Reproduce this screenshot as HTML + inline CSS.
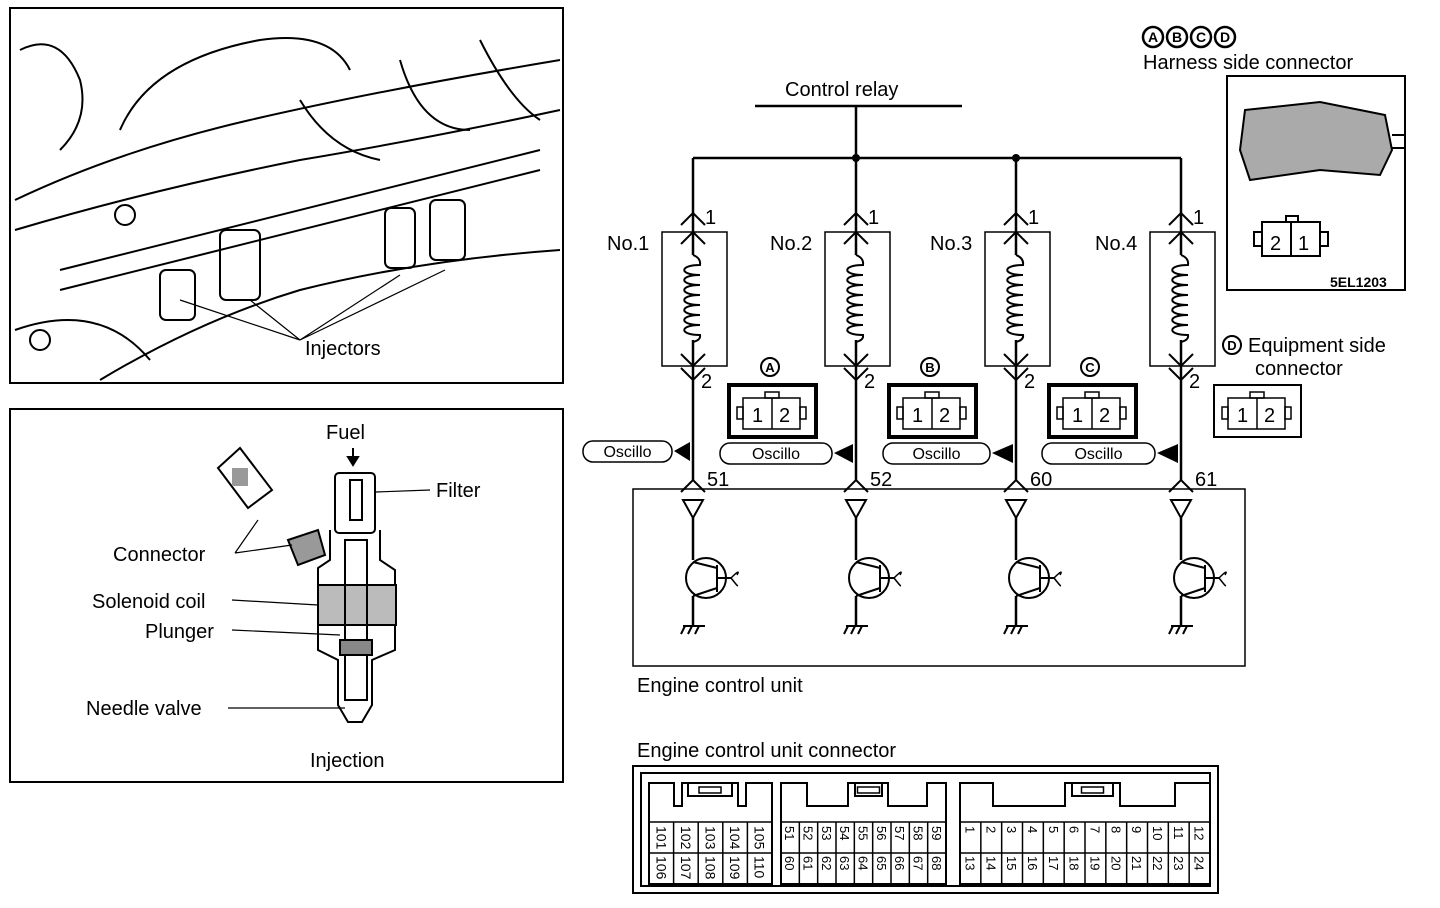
<!DOCTYPE html>
<html><head><meta charset="utf-8"><style>
html,body{margin:0;padding:0;background:#fff;}
svg{display:block;font-family:"Liberation Sans",sans-serif;}
</style></head><body>
<svg id="s" width="1440" height="908" viewBox="0 0 1440 908" xmlns="http://www.w3.org/2000/svg">
<g fill="none" stroke="#000" stroke-width="2">
<rect x="10" y="8" width="553" height="375"/>
<rect x="10" y="409" width="553" height="373"/>
<g stroke-width="2">
<path d="M15 200 Q120 150 250 120 Q380 90 560 60"/>
<path d="M15 230 Q150 190 300 160 Q420 140 560 110"/>
<path d="M60 270 L540 150 M60 290 L540 170"/>
<path d="M100 380 Q200 320 300 290 Q420 260 560 250"/>
<path d="M120 130 Q150 60 260 40 Q330 30 350 70"/>
<path d="M300 100 Q330 150 380 160 M400 60 Q420 130 470 130"/>
<rect x="385" y="208" width="30" height="60" rx="6"/>
<rect x="430" y="200" width="35" height="60" rx="6"/>
<rect x="220" y="230" width="40" height="70" rx="6"/>
<rect x="160" y="270" width="35" height="50" rx="6"/>
<path d="M20 50 Q60 30 80 80 Q90 120 60 150"/>
<path d="M480 40 Q510 100 540 120"/>
<circle cx="40" cy="340" r="10"/><circle cx="125" cy="215" r="10"/>
<path d="M15 330 Q100 300 150 360"/>
</g>
<path d="M300 340 L180 300 M300 340 L250 300 M300 340 L400 275 M300 340 L445 270" stroke-width="1.2"/>
<g stroke-width="2">
<rect x="335" y="473" width="40" height="60" rx="4"/>
<rect x="350" y="480" width="12" height="40"/>
<path d="M330 530 L330 560 L318 568 L318 650 L338 660 L338 705 L348 722 L362 722 L372 705 L372 660 L395 650 L395 570 L380 560 L380 530"/>
<rect x="318" y="585" width="78" height="40" fill="#bbb"/>
<rect x="345" y="540" width="22" height="160"/>
<rect x="340" y="640" width="32" height="15" fill="#888"/>
<path d="M288 540 L318 530 L325 555 L298 565 Z" fill="#999"/>
<path d="M218 468 L240 448 L272 490 L248 508 Z"/>
<rect x="232" y="468" width="16" height="18" fill="#999" stroke="none"/>
</g>
<path d="M353 448 L353 462" stroke-width="2"/>
<path d="M348 457 L353 465 L358 457 Z" fill="#000"/>
<path d="M430 490 L376 492 M235 553 L258 520 M235 553 L292 545 M232 600 L318 605 M232 630 L340 635 M228 708 L345 708" stroke-width="1.2"/>
</g>
<g font-size="20" fill="#000">
<text x="305" y="355">Injectors</text>
<text x="326" y="439">Fuel</text>
<text x="436" y="497">Filter</text>
<text x="113" y="561">Connector</text>
<text x="92" y="608">Solenoid coil</text>
<text x="145" y="638">Plunger</text>
<text x="86" y="715">Needle valve</text>
<text x="310" y="767">Injection</text>
<text x="785" y="96">Control relay</text>
<text x="637" y="692">Engine control unit</text>
<text x="637" y="757">Engine control unit connector</text>
<text x="1143" y="69">Harness side connector</text>
<text x="1248" y="352">Equipment side</text>
<text x="1255" y="375">connector</text>
</g>
<g id="dyn"></g>
<g fill="none" stroke="#000" stroke-width="2">
<rect x="1227" y="76" width="178" height="214"/>
<path d="M1245 110 L1320 102 L1360 110 L1385 115 L1392 150 L1380 175 L1320 170 L1250 180 L1240 150 Z" fill="#aaa"/>
<path d="M1392 135 L1405 135 M1392 148 L1405 148"/>
<rect x="1262" y="222" width="58" height="34"/><path d="M1291 222 V256"/>
<rect x="1286" y="216" width="12" height="6"/>
<rect x="1254" y="232" width="8" height="14"/><rect x="1320" y="232" width="8" height="14"/>
</g>
<g font-size="20"><text x="1270" y="250">2</text><text x="1298" y="250">1</text></g>
<text x="1330" y="287" font-size="14" font-weight="bold">5EL1203</text>
</svg>
<script>
const g=document.getElementById('dyn');let h='';
h+='<path d="M755 106 H962 M856 106 V158 M693 158 H1181" stroke="#000" stroke-width="2.5" fill="none"/>';
h+='<circle cx="856" cy="158" r="4"/><circle cx="1016" cy="158" r="4"/>';
const X=[693,856,1016,1181],nums=['51','52','60','61'],nos=['No.1','No.2','No.3','No.4'];
const osc=[[583,672],[720,832],[883,990],[1042,1155]];
X.forEach((x,i)=>{
 h+=`<path d="M${x} 158 V480" stroke="#000" stroke-width="2.5" fill="none"/>`;
 h+=`<rect x="${x-31}" y="232" width="65" height="134" fill="none" stroke="#000" stroke-width="1.5"/>`;
 h+=`<rect x="${x-6}" y="255" width="16" height="85" fill="#fff" stroke="none"/>`;
 let c=`M${x} 255 Q${x+8} 258 ${x+7} 265`;
 for(let k=0;k<7;k++){const y=265+k*10;c+=` C${x-14} ${y} ${x-14} ${y+10} ${x+7} ${y+10}`;}
 c+=` Q${x+8} 340 ${x} 342`;
 h+=`<path d="${c}" stroke="#000" stroke-width="2" fill="none"/>`;
 [[213,-1],[232,-1],[366,1],[380,1],[480,-1]].forEach(([y,d])=>{h+=`<path d="M${x-12} ${y-d*12} L${x} ${y} L${x+12} ${y-d*12}" stroke="#000" stroke-width="2" fill="none"/>`;});
 h+=`<text x="${x+12}" y="224" font-size="20">1</text><text x="${x+8}" y="388" font-size="20">2</text>`;
 h+=`<text x="${x+14}" y="486" font-size="20">${nums[i]}</text>`;
 h+=`<text x="${x-86}" y="250" font-size="20">${nos[i]}</text>`;
 const [a,b]=osc[i];const oy=i==0?441:443;
 h+=`<rect x="${a}" y="${oy}" width="${b-a}" height="21" rx="10" fill="#fff" stroke="#000" stroke-width="1.5"/>`;
 h+=`<text x="${(a+b)/2}" y="${oy+16}" font-size="16" text-anchor="middle">Oscillo</text>`;
 h+=`<path d="M${b+2} ${oy+10} L${x-3} ${oy+1} L${x-3} ${oy+20} Z"/>`;
 h+=`<path d="M${x-10} 500 L${x+10} 500 L${x} 518 Z" fill="#fff" stroke="#000" stroke-width="2"/>`;
 h+=`<path d="M${x} 518 V560 M${x} 596 V625" stroke="#000" stroke-width="2.5"/>`;
 h+=`<circle cx="${x+13}" cy="578" r="20" fill="none" stroke="#000" stroke-width="2"/>`;
 h+=`<path d="M${x} 562 L${x+24} 568 M${x+24} 565 V592 M${x+24} 578 H${x+38} M${x+24} 588 L${x} 596" stroke="#000" stroke-width="2" fill="none"/>`;
 h+=`<path d="M${x+38} 578 Q${x+48} 568 ${x+44} 575 M${x+38} 578 Q${x+46} 588 ${x+44} 585" stroke="#000" stroke-width="1.5" fill="none"/>`;
 h+=`<path d="M${x-10} 626 H${x+12} M${x-8} 626 L${x-12} 634 M${x-1} 626 L${x-5} 634 M${x+6} 626 L${x+2} 634" stroke="#000" stroke-width="2"/>`;
});
h+='<rect x="633" y="489" width="612" height="177" fill="none" stroke="#000" stroke-width="1.5"/>';
const cn=[[727,'A'],[887,'B'],[1047,'C'],[1212,'']];
cn.forEach(([x,l])=>{
 h+=`<rect x="${x+2}" y="385" width="87" height="52" fill="none" stroke="#000" stroke-width="${l?4:2}"/>`;
 h+=`<rect x="${x+16}" y="398" width="57" height="31" fill="none" stroke="#000" stroke-width="1.5"/><path d="M${x+45} 398 V429" stroke="#000" stroke-width="1.5"/>`;
 h+=`<rect x="${x+38}" y="392" width="14" height="6" fill="none" stroke="#000" stroke-width="1.5"/>`;
 h+=`<rect x="${x+10}" y="407" width="6" height="12" fill="none" stroke="#000" stroke-width="1.5"/><rect x="${x+73}" y="407" width="6" height="12" fill="none" stroke="#000" stroke-width="1.5"/>`;
 h+=`<text x="${x+25}" y="422" font-size="20">1</text><text x="${x+52}" y="422" font-size="20">2</text>`;
 if(l){h+=`<circle cx="${x+43}" cy="367" r="9" fill="none" stroke="#000" stroke-width="2"/><text x="${x+43}" y="372" font-size="13" font-weight="bold" text-anchor="middle">${l}</text>`;}
});
['A','B','C','D'].forEach((l,i)=>{const cx=1153+i*24;h+=`<circle cx="${cx}" cy="37" r="10" fill="none" stroke="#000" stroke-width="2.5"/><text x="${cx}" y="42" font-size="14" font-weight="bold" text-anchor="middle">${l}</text>`;});
h+='<circle cx="1232" cy="345" r="9" fill="none" stroke="#000" stroke-width="2"/><text x="1232" y="350" font-size="13" font-weight="bold" text-anchor="middle">D</text>';
h+='<rect x="633" y="766" width="585" height="127" fill="none" stroke="#000" stroke-width="2"/><rect x="641" y="773" width="569" height="113" fill="none" stroke="#000" stroke-width="2"/>';
// [a,b,n,lowStart,midStart,midEnd,lowEnd,uL,uR,t1,t2]
const blocks=[[649,772,5,674,682,738,746,688,732,['101','102','103','104','105'],['106','107','108','109','110']],
 [781,946,9,807,848,888,927,855,882,['51','52','53','54','55','56','57','58','59'],['60','61','62','63','64','65','66','67','68']],
 [960,1210,12,993,1065,1120,1175,1072,1113,['1','2','3','4','5','6','7','8','9','10','11','12'],['13','14','15','16','17','18','19','20','21','22','23','24']]];
blocks.forEach(([a,b,n,l1,m1,m2,l2,u1,u2,t1,t2])=>{
 const w=(b-a)/n, hi=783, lo=806;
 h+=`<path d="M${a} 884 V${hi} H${l1} V${lo} H${m1} V${hi} H${m2} V${lo} H${l2} V${hi} H${b} V884 Z" fill="none" stroke="#000" stroke-width="2"/>`;
 h+=`<path d="M${u1} ${hi} V796 H${u2} V${hi}" fill="none" stroke="#000" stroke-width="2"/>`;
 const km=(u1+u2)/2;
 h+=`<rect x="${km-11}" y="787" width="22" height="6" fill="none" stroke="#000" stroke-width="1.5"/>`;
 h+=`<path d="M${a} 822 H${b} M${a} 853 H${b}" stroke="#000" stroke-width="1.5"/>`;
 for(let k=1;k<n;k++)h+=`<path d="M${a+k*w} 822 V884" stroke="#000" stroke-width="1.5"/>`;
 const fs=n==5?14:13;
 for(let k=0;k<n;k++){const cx=a+k*w+w/2;
  h+=`<text transform="translate(${cx-5} 826) rotate(90)" font-size="${fs}">${t1[k]}</text>`;
  h+=`<text transform="translate(${cx-5} 856) rotate(90)" font-size="${fs}">${t2[k]}</text>`;}
});
g.innerHTML=h;
</script>
</body></html>
